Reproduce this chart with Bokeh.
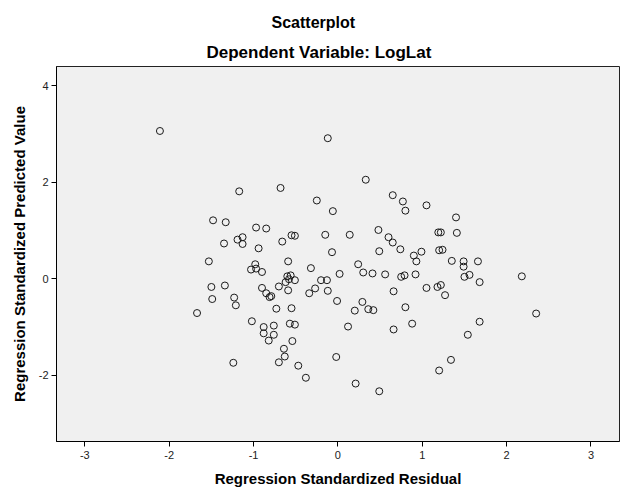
from bokeh.plotting import figure
from bokeh.models import Range1d, FixedTicker, Title, ColumnDataSource
from bokeh.embed import file_html
from bokeh.resources import INLINE

# Data (Regression Standardized Residual, Predicted Value)
residual = [
    -2.11, -1.17, -0.68, -0.12, -0.25, -0.06, 0.33, 0.65, 0.77, 0.80, 1.05, 1.40,
    -1.48, -1.33, -0.97, -1.19, -1.13, -1.13, -1.35, -0.94, -1.53, -1.03, -0.98, -0.97,
    -0.90, -0.85, -0.55, -0.51, -0.15, 0.14, 0.48, 0.60, 0.65, 0.74, 0.49, 0.90,
    0.99, 0.93, 1.19, 1.22, 1.20, 1.24, 1.35, -0.66, -0.07, -0.59, -0.32, 0.02,
    0.24, 0.30, 0.41, 0.56, 0.75, 0.79, 0.92, -0.60, -0.56, -0.58, -0.62, -0.51,
    -0.20, -0.13, -0.70, -0.59, -0.90, -0.85, -0.81, -0.79, -0.27, -0.34, -0.12, -0.01,
    0.66, 1.05, 1.18, 1.22, 1.27, -0.73, -0.55, 0.29, 0.20, 0.36, 0.42, 0.80,
    -1.02, -0.88, -0.76, -0.57, -0.51, 0.12, 0.66, 0.88, 1.41, 1.49, 1.49, 1.66,
    1.50, 1.56, 1.68, 2.18, 2.35, 1.68, -1.24, -0.88, -0.76, -0.82, -0.54, -0.64,
    -0.63, -0.70, -0.47, -0.38, -0.02, 0.21, 0.49, 1.20, 1.34, 1.54, -1.50, -1.34,
    -1.49, -1.23, -1.21, -1.67,
]
predicted = [
    3.06, 1.81, 1.88, 2.91, 1.62, 1.40, 2.05, 1.73, 1.60, 1.41, 1.52, 1.27,
    1.21, 1.17, 1.06, 0.81, 0.86, 0.72, 0.73, 0.63, 0.36, 0.19, 0.30, 0.21,
    0.14, 1.04, 0.90, 0.89, 0.91, 0.91, 1.01, 0.86, 0.75, 0.61, 0.57, 0.48,
    0.56, 0.36, 0.96, 0.96, 0.59, 0.60, 0.37, 0.77, 0.55, 0.36, 0.22, 0.10,
    0.30, 0.13, 0.11, 0.09, 0.04, 0.07, 0.09, 0.05, 0.07, -0.01, -0.07, -0.03,
    -0.03, -0.03, -0.16, -0.24, -0.19, -0.30, -0.38, -0.36, -0.20, -0.30, -0.25, -0.46,
    -0.26, -0.19, -0.17, -0.13, -0.34, -0.62, -0.61, -0.48, -0.66, -0.63, -0.65, -0.59,
    -0.88, -1.00, -0.97, -0.93, -0.95, -0.99, -1.05, -0.93, 0.95, 0.36, 0.25, 0.36,
    0.04, 0.08, -0.07, 0.05, -0.72, -0.89, -1.74, -1.13, -1.16, -1.28, -1.29, -1.45,
    -1.61, -1.73, -1.80, -2.05, -1.62, -2.17, -2.33, -1.90, -1.68, -1.16, -0.17, -0.14,
    -0.42, -0.39, -0.55, -0.71,
]

x_ticks = [-3, -2, -1, 0, 1, 2, 3]
y_ticks = [-2, 0, 2, 4]
x_tick_labels = ["-3", "-2", "-1", "0", "1", "2", "3"]
y_tick_labels = ["-2", "0", "2", "4"]

title_text = "Scatterplot"
subtitle_text = "Dependent Variable: LogLat"
x_label = "Regression Standardized Residual"
y_label = "Regression Standardized Predicted Value"

FONT = "Liberation Sans"

p = figure(width=626, height=501, output_backend="svg", toolbar_location=None,
           x_range=Range1d(-3.336, 3.338), y_range=Range1d(-3.37, 4.395),
           min_border_left=56, min_border_right=7, min_border_top=66,
           min_border_bottom=60, title=None)

p.background_fill_color = "#F0F0F0"
p.border_fill_color = "white"
p.outline_line_color = "#222222"
p.outline_line_width = 1
p.xgrid.visible = False
p.ygrid.visible = False

sub = Title(text=subtitle_text, align="left", text_font=FONT,
            text_font_size="17px", text_font_style="bold", text_color="black",
            standoff=9, offset=150)
main = Title(text=title_text, align="left", text_font=FONT,
             text_font_size="16px", text_font_style="bold", text_color="black",
             standoff=11, offset=215)
p.add_layout(sub, "above")
p.add_layout(main, "above")

src = ColumnDataSource(data=dict(x=residual, y=predicted))
p.scatter("x", "y", source=src, marker="circle", size=7, fill_color=None,
          line_color="#1a1a1a", line_width=1)

for ax, ticks, labels in ((p.xaxis[0], x_ticks, x_tick_labels),
                          (p.yaxis[0], y_ticks, y_tick_labels)):
    ax.ticker = FixedTicker(ticks=ticks, minor_ticks=[])
    ax.major_label_overrides = {t: l for t, l in zip(ticks, labels)}
    ax.major_tick_out = 5
    ax.major_tick_in = 0
    ax.minor_tick_out = 0
    ax.minor_tick_in = 0
    ax.axis_line_color = "black"
    ax.major_tick_line_color = "black"
    ax.major_label_text_font = FONT
    ax.major_label_text_font_size = "11px"
    ax.major_label_text_color = "#222222"
    ax.axis_label_text_font = FONT
    ax.axis_label_text_font_size = "15px"
    ax.axis_label_text_font_style = "bold"
    ax.axis_label_text_color = "black"

p.xaxis.axis_label = x_label
p.yaxis.axis_label = y_label
p.xaxis.major_label_standoff = 4
p.yaxis.major_label_standoff = 3
p.xaxis.axis_label_standoff = 8
p.yaxis.axis_label_standoff = 8

open("out.html", "w").write(file_html(p, INLINE))
